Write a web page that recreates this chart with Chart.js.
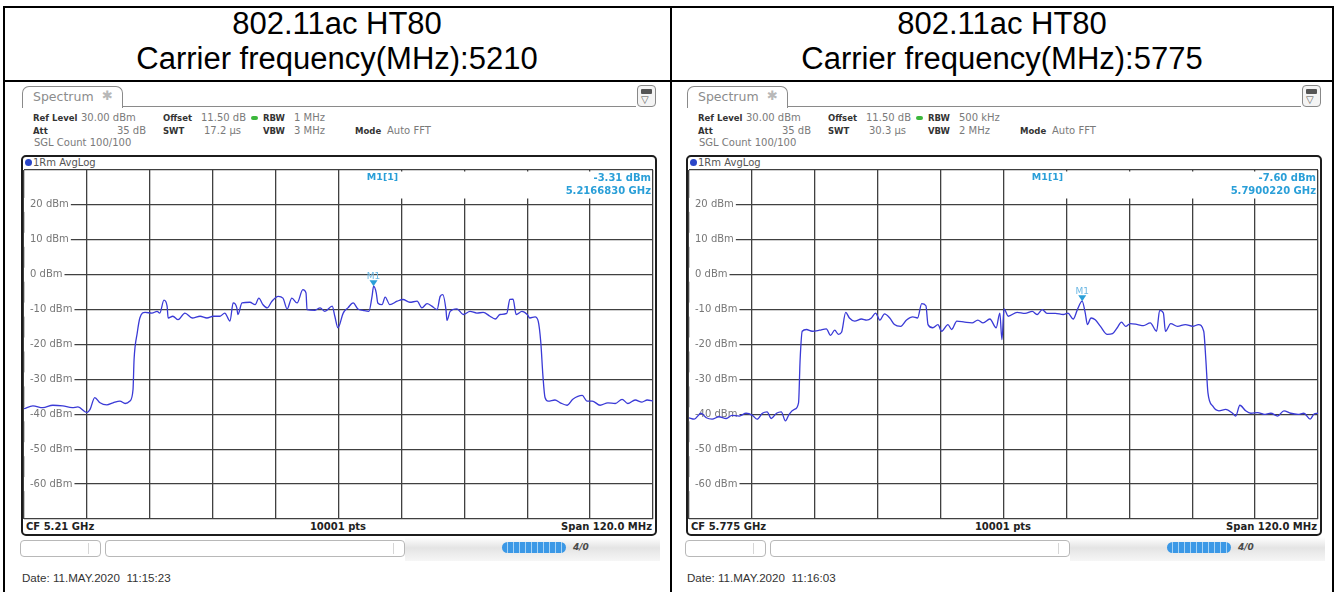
<!DOCTYPE html>
<html><head><meta charset="utf-8">
<script src="https://cdn.jsdelivr.net/npm/chart.js@4.4.0/dist/chart.umd.min.js"></script>
<style>
html,body{margin:0;padding:0;background:#fff;}
body{width:1338px;height:592px;overflow:hidden;position:relative;font-family:'DejaVu Sans',sans-serif;}
.a{position:absolute;white-space:pre;}
.title{position:absolute;top:6px;text-align:center;font-family:'Liberation Sans',Arial,sans-serif;font-size:31px;line-height:35px;color:#000;}
.b{font-weight:bold;color:#333;font-size:8.5px;}
.v{color:#7a7a7a;font-size:10px;}
</style></head><body>
<script>
// ---------- data ----------
const freqA = [5150.0,5151.7,5153.6,5155.5,5157.4,5159.2,5160.3,5162.0,5162.6,5163.5,5164.5,5165.8,5167.0,5168.3,5169.3,5170.2,5170.8,5171.0,5171.6,5172.1,5173.1,5174.4,5175.4,5175.9,5176.7,5177.3,5177.5,5178.4,5179.4,5180.7,5182.1,5183.6,5184.9,5186.1,5187.4,5188.3,5189.3,5189.9,5190.6,5190.8,5191.6,5193.1,5194.1,5194.8,5195.6,5196.4,5197.3,5198.5,5199.4,5200.2,5201.1,5202.1,5203.2,5203.8,5204.0,5205.5,5206.5,5207.4,5208.8,5209.3,5209.9,5210.9,5211.8,5212.8,5213.7,5214.7,5215.8,5216.4,5216.7,5217.2,5217.5,5218.3,5218.9,5219.8,5221.2,5222.3,5223.6,5225.0,5225.9,5226.9,5227.8,5228.8,5229.4,5229.9,5230.5,5230.7,5231.3,5232.6,5233.8,5235.1,5236.4,5237.6,5238.9,5239.9,5240.8,5242.1,5242.7,5243.3,5243.9,5245.0,5246.0,5246.5,5247.5,5248.1,5248.6,5249.0,5249.4,5250.0,5251.3,5252.3,5253.6,5254.7,5256.5,5257.4,5258.4,5259.9,5261.4,5262.8,5264.1,5265.2,5266.6,5267.9,5268.9,5270.0];
const levelA = [-38.4,-37.6,-38.1,-37.4,-37.6,-38.1,-37.9,-39.5,-38.6,-35.2,-36.7,-37.3,-36.7,-36.2,-36.9,-36.2,-32.9,-24.3,-16.7,-12.4,-10.8,-11.0,-10.5,-11.0,-7.3,-9.0,-12.4,-11.9,-12.9,-11.0,-12.4,-11.9,-12.4,-11.9,-11.9,-11.0,-13.3,-8.1,-9.5,-11.4,-8.1,-7.9,-8.6,-6.7,-8.6,-9.5,-7.6,-6.2,-6.7,-9.8,-6.7,-8.1,-4.3,-5.2,-10.0,-10.2,-9.5,-10.5,-9.0,-11.9,-15.2,-11.0,-9.5,-8.1,-9.8,-10.2,-10.5,-6.2,-3.3,-5.2,-8.1,-8.6,-6.4,-8.6,-7.6,-7.1,-7.9,-7.6,-9.5,-8.3,-9.0,-10.0,-6.2,-5.7,-10.0,-13.1,-10.5,-9.8,-11.4,-10.5,-11.0,-10.8,-11.9,-12.7,-11.4,-11.1,-7.1,-7.0,-11.4,-10.5,-11.4,-12.4,-12.1,-13.3,-19.5,-29.0,-35.2,-36.2,-35.9,-36.7,-37.4,-35.7,-34.6,-36.2,-36.2,-37.4,-36.7,-36.9,-35.7,-36.9,-35.9,-36.5,-35.9,-36.2];
const freqB = [5715.0,5716.0,5717.3,5718.3,5719.4,5720.7,5722.1,5723.2,5724.6,5725.9,5727.1,5728.0,5729.0,5729.9,5730.7,5731.7,5732.6,5733.4,5734.1,5735.1,5735.9,5736.2,5736.6,5737.4,5738.5,5739.9,5741.2,5742.0,5742.8,5743.5,5744.1,5744.9,5745.6,5746.6,5747.9,5748.9,5749.8,5750.6,5751.4,5752.3,5753.3,5754.2,5755.4,5756.5,5757.7,5758.6,5759.4,5760.2,5760.6,5761.5,5762.5,5763.2,5764.4,5765.1,5766.1,5767.6,5769.0,5770.1,5771.1,5772.4,5773.6,5774.3,5774.7,5775.1,5775.9,5777.6,5779.1,5780.5,5781.4,5782.4,5783.3,5784.9,5786.4,5787.3,5788.3,5789.1,5790.0,5790.6,5791.0,5791.7,5792.5,5793.5,5794.8,5795.8,5796.7,5797.5,5798.3,5799.2,5800.6,5801.7,5803.0,5804.2,5804.8,5805.5,5805.9,5806.9,5808.2,5809.7,5811.1,5812.2,5813.2,5813.6,5814.0,5814.9,5816.1,5817.4,5818.7,5819.3,5820.1,5821.2,5822.2,5823.5,5824.7,5826.0,5827.3,5828.5,5829.8,5831.2,5832.3,5833.5,5834.2,5835.0];
const levelB = [-41.0,-41.4,-39.7,-41.0,-41.4,-40.7,-41.2,-40.3,-40.5,-39.7,-40.3,-41.4,-39.7,-39.3,-41.2,-39.7,-39.3,-41.9,-40.0,-38.6,-36.7,-24.3,-16.2,-15.7,-16.2,-15.9,-15.5,-17.4,-15.9,-17.1,-16.5,-10.8,-12.4,-13.3,-12.7,-13.0,-12.4,-11.0,-13.0,-11.2,-12.4,-14.3,-14.8,-13.0,-12.1,-12.4,-8.3,-8.9,-14.3,-15.2,-14.3,-16.2,-14.3,-15.7,-13.3,-13.6,-13.8,-13.0,-13.8,-12.7,-15.2,-11.0,-18.6,-9.8,-11.9,-10.8,-11.1,-10.5,-11.4,-10.0,-11.1,-11.1,-11.4,-11.0,-12.7,-10.0,-7.6,-11.0,-14.3,-12.4,-12.9,-14.8,-17.1,-16.9,-15.2,-13.6,-14.8,-14.0,-14.3,-14.6,-13.8,-16.2,-10.2,-11.0,-16.2,-14.0,-14.8,-14.3,-14.8,-14.3,-16.2,-24.3,-33.8,-37.6,-39.0,-38.6,-39.7,-40.5,-37.4,-39.0,-39.7,-39.5,-40.0,-39.7,-40.5,-39.0,-39.7,-40.0,-39.7,-41.4,-40.0,-39.7];
const yTickValues = [30,20,10,0,-10,-20,-30,-40,-50,-60,-70];
const yTickLabels = ['','20 dBm','10 dBm','0 dBm','-10 dBm','-20 dBm','-30 dBm','-40 dBm','-50 dBm','-60 dBm',''];
const xRangeA = [5150, 5270];
const xRangeB = [5715, 5835];
const markerA = [5216.683, -3.31];
const markerB = [5790.022, -7.60];

const panels = [
 {ox:0, cx:337, t1:'802.11ac HT80', t2:'Carrier frequency(MHz):5210', rbw:'1 MHz', swt:'17.2 µs', vbw:'3 MHz',
  cf:'CF 5.21 GHz', mval:'-3.31 dBm', mfreq:'5.2166830 GHz', date:'Date: 11.MAY.2020  11:15:23',
  freq:freqA, level:levelA, range:xRangeA, marker:markerA},
 {ox:665, cx:1002, t1:'802.11ac HT80', t2:'Carrier frequency(MHz):5775', rbw:'500 kHz', swt:'30.3 µs', vbw:'2 MHz',
  cf:'CF 5.775 GHz', mval:'-7.60 dBm', mfreq:'5.7900220 GHz', date:'Date: 11.MAY.2020  11:16:03',
  freq:freqB, level:levelB, range:xRangeB, marker:markerB}
];

// ---------- helpers ----------
const B = document.body;
function el(tag, css, cls){ const d=document.createElement(tag); if(cls) d.className=cls; Object.assign(d.style, css); B.appendChild(d); return d; }
function box(x,y,w,h,css){ return el('div', Object.assign({position:'absolute',left:x+'px',top:y+'px',width:w+'px',height:h+'px',boxSizing:'border-box'}, css||{})); }
function T(x, yc, s, cls, css, align){
  const d = el('div', Object.assign({left:x+'px', top:(yc-8)+'px', height:'16px', lineHeight:'16px'}, css||{}), 'a ' + (cls||''));
  d.textContent = s;
  if(align==='r') d.style.transform='translateX(-100%)';
  if(align==='c') d.style.transform='translateX(-50%)';
  return d;
}

// table lines
box(3,6,1331,2,{background:'#000'});
box(3,80,1331,2,{background:'#000'});
box(3,6,2,600,{background:'#000'});
box(670,6,2,600,{background:'#000'});
box(1332,6,2,600,{background:'#000'});

const TRACE = '#3a3ad6';
const MK = '#2a9fd8';
const GRID = '#404040';

panels.forEach(p => {
  const o = p.ox;
  // title
  const t = el('div', {left:(p.cx-330)+'px', width:'660px'}, 'title');
  t.innerHTML = p.t1 + '<br>' + p.t2;

  // tab
  box(22+o, 86, 101, 22, {border:'1px solid #8a8a8a', borderBottom:'none', borderRadius:'7px 7px 0 0', background:'#fff'});
  T(33+o, 97, 'Spectrum', '', {fontSize:'12.5px', color:'#8c8c8c'});
  T(102+o, 96, '✱', '', {fontSize:'13px', color:'#b8b8b8'});
  box(123+o, 106, 513, 1, {background:'#8a8a8a'});
  // icon box
  box(637+o, 85, 19, 22, {border:'1px solid #888', borderRadius:'4px', background:'#f4f4f4'});
  box(641+o, 89, 11, 5, {background:'#555', borderRadius:'1px'});
  T(641+o, 100, '▽', '', {fontSize:'10px', color:'#555'});

  // info rows
  T(33+o, 118, 'Ref Level', 'b'); T(81+o, 118, '30.00 dBm', 'v');
  T(163+o, 118, 'Offset', 'b'); T(201+o, 118, '11.50 dB', 'v');
  box(251+o, 116, 7, 4, {background:'#3cb83c', borderRadius:'2px'});
  T(263+o, 118, 'RBW', 'b'); T(294+o, 118, p.rbw, 'v');
  T(33+o, 131, 'Att', 'b'); T(146+o, 131, '35 dB', 'v', {}, 'r');
  T(163+o, 131, 'SWT', 'b'); T(204+o, 131, p.swt, 'v');
  T(263+o, 131, 'VBW', 'b'); T(294+o, 131, p.vbw, 'v');
  T(355+o, 131, 'Mode', 'b'); T(387+o, 131, 'Auto FFT', 'v');
  T(34+o, 143, 'SGL Count 100/100', 'v');

  // plot frame
  box(21+o, 155, 636, 381, {border:'2px solid #1c1c1c', borderRadius:'5px', background:'#fff'});
  box(25+o, 159, 7, 7, {background:'#2a45c8', borderRadius:'50%'});
  T(33+o, 162.5, '1Rm AvgLog', '', {color:'#555', fontSize:'10px'});
  T(26+o, 527, p.cf, 'b', {fontSize:'10px', color:'#222'});
  T(338+o, 527, '10001 pts', 'b', {fontSize:'10px', color:'#222'}, 'c');
  T(652+o, 527, 'Span 120.0 MHz', 'b', {fontSize:'10px', color:'#222'}, 'r');

  // status bar
  box(405+o, 537, 255, 24, {background:'linear-gradient(#ffffff, #e4e4e4 45%, #f6f6f6)'});
  box(20+o, 540, 81, 17, {border:'1px solid #b8b8b8', borderRadius:'4px', background:'#fff'});
  box(88+o, 543, 1, 11, {background:'#d6d6d6'});
  box(105+o, 540, 300, 17, {border:'1px solid #b8b8b8', borderRadius:'4px', background:'#fff'});
  box(393+o, 543, 1, 11, {background:'#d6d6d6'});
  box(502+o, 542, 64, 11, {borderRadius:'6px', background:'repeating-linear-gradient(to right, #3b98e6 0 5px, #a6d3f5 5px 6px)'});
  T(573+o, 547, '4/0', '', {fontSize:'9px', fontWeight:'bold', fontStyle:'italic', color:'#4a4a4a'});

  // date
  T(22+o, 578, p.date, '', {fontFamily:"'Liberation Sans',Arial,sans-serif", fontSize:'11.6px', color:'#333'});

  // chart canvas
  const cv = el('canvas', {position:'absolute', left:(23+o)+'px', top:'169px'});
  cv.width = 631; cv.height = 351;
  const pts = p.freq.map((f,i)=>({x:f, y:p.level[i]}));
  const mid = (p.range[0]+p.range[1])/2;
  const mkPlugin = {
    id:'markerInfo',
    beforeDatasetsDraw(chart){
      const {ctx, chartArea:a, scales} = chart;
      const xm = scales.x.getPixelForValue(mid);
      const xs = scales.x.getPixelForValue(p.range[0] + (p.range[1]-p.range[0])*0.57);
      ctx.save();
      ctx.fillStyle = '#fff';
      ctx.fillRect(xm+1.5, a.top+1.5, a.right-xm-3, 27);
      ctx.fillStyle = MK; ctx.font = 'bold 9.5px "DejaVu Sans"'; ctx.textBaseline = 'middle';
      ctx.textAlign = 'center'; ctx.fillText('M1[1]', xs, a.top+8);
      ctx.font = 'bold 10px "DejaVu Sans"';
      ctx.textAlign = 'right';
      ctx.fillText(p.mval, a.right-2, a.top+8);
      ctx.fillText(p.mfreq, a.right-2, a.top+21);
      ctx.restore();
    },
    afterDatasetsDraw(chart){
      const {ctx, scales} = chart;
      const px = scales.x.getPixelForValue(p.marker[0]);
      const py = scales.y.getPixelForValue(p.marker[1]);
      ctx.save();
      ctx.fillStyle = MK;
      ctx.beginPath(); ctx.moveTo(px-4, py-6); ctx.lineTo(px+4, py-6); ctx.lineTo(px, py); ctx.closePath(); ctx.fill();
      ctx.fillStyle = '#6cb8e4'; ctx.font = '9px "DejaVu Sans"'; ctx.textAlign='center'; ctx.textBaseline='middle';
      ctx.fillText('M1', px, py-10);
      ctx.restore();
    }
  };
  new Chart(cv.getContext('2d'), {
    type:'line',
    data:{datasets:[{data:pts, borderColor:TRACE, borderWidth:1.3, pointRadius:0, cubicInterpolationMode:'monotone', fill:false}]},
    options:{
      responsive:false, animation:false, events:[],
      layout:{padding:1, autoPadding:false},
      plugins:{legend:{display:false}, tooltip:{enabled:false}},
      scales:{
        x:{type:'linear', min:p.range[0], max:p.range[1],
           ticks:{display:false, stepSize:12},
           grid:{color:GRID, lineWidth:1.3, drawTicks:false},
           border:{display:false},
           afterFit(s){ s.height=0; s.paddingLeft=0; s.paddingRight=0; }},
        y:{type:'linear', min:-70, max:30,
           afterBuildTicks(s){ s.ticks = yTickValues.map(v=>({value:v})); },
           ticks:{mirror:true, padding:6, color:'#777', font:{family:'DejaVu Sans', size:10},
                  callback:(v)=> yTickLabels[yTickValues.indexOf(v)],
                  showLabelBackdrop:true,
                  backdropColor:(c)=> (c.tick && (c.tick.value===30 || c.tick.value===-70)) ? 'rgba(0,0,0,0)' : '#fff',
                  backdropPadding:{left:6,right:2,top:1,bottom:1}},
           grid:{color:GRID, lineWidth:1.3, drawTicks:false},
           border:{display:false},
           afterFit(s){ s.width=0; s.paddingTop=0; s.paddingBottom=0; }}
      }
    },
    plugins:[mkPlugin]
  });
});
</script>
</body></html>
